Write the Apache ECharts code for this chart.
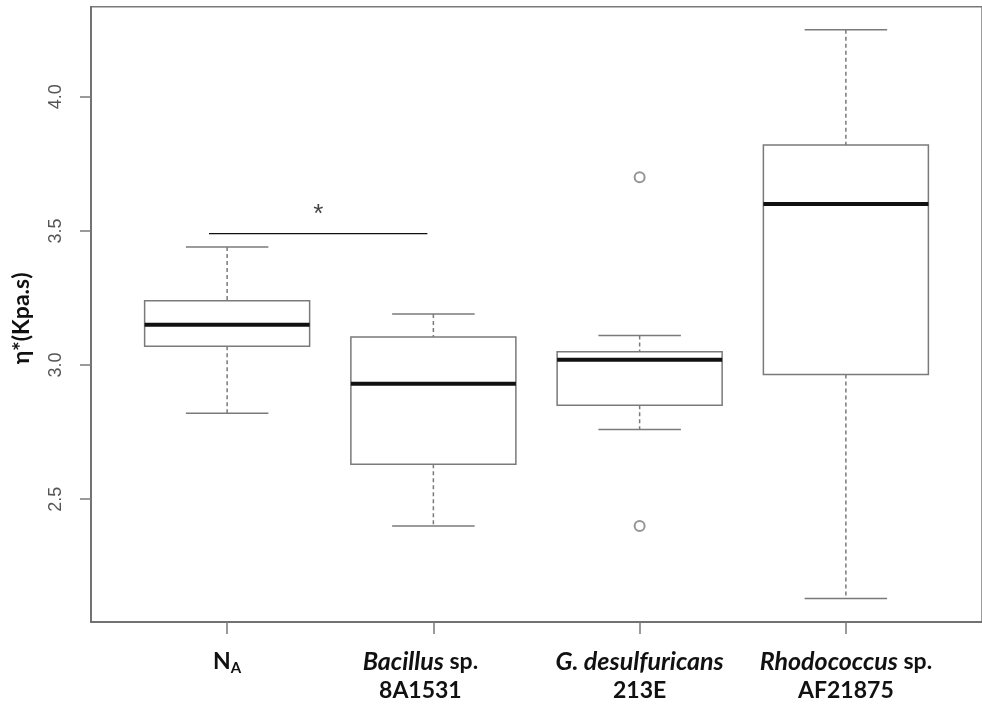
<!DOCTYPE html>
<html>
<head>
<meta charset="utf-8">
<title>Complex viscosity by treatment</title>
<script src="https://cdn.jsdelivr.net/npm/echarts@6/dist/echarts.min.js"></script>
<style>
  html, body { margin: 0; padding: 0; background: #fff; }
  #chart { width: 982px; height: 705px; }
</style>
</head>
<body>
<div id="chart"></div>
<script>
// Five-number summaries per treatment (whisker ends, quartiles, median)
const categories = ['NA', 'Bacillus sp. 8A1531', 'G. desulfuricans 213E', 'Rhodococcus sp. AF21875'];
const lowerWhisker = [2.82, 2.40, 2.76, 2.13];
const q1 = [3.07, 2.63, 2.85, 2.965];
const median = [3.15, 2.93, 3.02, 3.60];
const q3 = [3.24, 3.105, 3.05, 3.82];
const upperWhisker = [3.44, 3.19, 3.11, 4.25];
// Points beyond the whiskers: [group position, value]
const outliers = [[3, 3.70], [3, 2.40]];
// Significance bracket between the first two groups: [from, to, level]
const sigBracket = [0.912, 1.971, 3.49];
const sigMark = '*';
const yTicks = [2.5, 3.0, 3.5, 4.0];
const xTicks = [1, 2, 3, 4];
// Rich-text tick labels (italic genus names, bold strain codes)
const xTickLabels = [
  '{b|N}{sub|A}',
  '{bi|Bacillus}{bp| sp.}\n{bp|8A1531}',
  '{bi|G. desulfuricans}\n{b|213E}',
  '{bi|Rhodococcus}{b| sp.}\n{b|AF21875}'
];

const boxData = categories.map((c, i) => [xTicks[i], lowerWhisker[i], q1[i], median[i], q3[i], upperWhisker[i]]);

const BOX_HALF = 0.4;
const CAP_HALF = 0.2;
const GREY = '#7a7a7a';

function renderBox(params, api) {
  const x = api.value(0);
  const lw = api.value(1), lq = api.value(2), md = api.value(3), uq = api.value(4), uw = api.value(5);
  const pL = api.coord([x - BOX_HALF, uq]);
  const pR = api.coord([x + BOX_HALF, lq]);
  const c = api.coord([x, md]);
  const yUW = api.coord([x, uw])[1];
  const yLW = api.coord([x, lw])[1];
  const capL = api.coord([x - CAP_HALF, uw])[0];
  const capR = api.coord([x + CAP_HALF, uw])[0];
  const dashed = { stroke: GREY, lineWidth: 1.5, lineDash: [4, 3], fill: null };
  const solid = { stroke: GREY, lineWidth: 1.5, fill: null };
  return {
    type: 'group',
    children: [
      { type: 'line', shape: { x1: c[0], y1: yUW, x2: c[0], y2: pL[1] }, style: dashed },
      { type: 'line', shape: { x1: c[0], y1: pR[1], x2: c[0], y2: yLW }, style: dashed },
      { type: 'line', shape: { x1: capL, y1: yUW, x2: capR, y2: yUW }, style: solid },
      { type: 'line', shape: { x1: capL, y1: yLW, x2: capR, y2: yLW }, style: solid },
      { type: 'rect', shape: { x: pL[0], y: pL[1], width: pR[0] - pL[0], height: pR[1] - pL[1] },
        style: { fill: '#fff', stroke: GREY, lineWidth: 1.5 } },
      { type: 'line', shape: { x1: pL[0], y1: c[1], x2: pR[0], y2: c[1] },
        style: { stroke: '#111', lineWidth: 4 } }
    ]
  };
}

const chart = echarts.init(document.getElementById('chart'));
const labelFont = 'Lato, "Open Sans", sans-serif';

chart.setOption({
  animation: false,
  backgroundColor: '#fff',
  grid: {
    left: 91, right: -3.5, top: 6.7, bottom: 83,
    show: true, borderColor: GREY, borderWidth: 1.5
  },
  xAxis: {
    type: 'value',
    min: 0.34, max: 4.66,
    splitLine: { show: false },
    axisLine: { show: true, lineStyle: { color: '#666', width: 1.5 } },
    axisTick: { show: true, length: 12, customValues: xTicks, lineStyle: { color: GREY, width: 1.5 } },
    axisLabel: {
      customValues: xTicks,
      margin: 25,
      lineHeight: 29,
      formatter: (v) => xTickLabels[Math.round(v) - 1] || '',
      rich: {
        b: { fontFamily: labelFont, fontWeight: 'bold', fontSize: 23, color: '#111', lineHeight: 29 },
        bp: { fontFamily: labelFont, fontWeight: 'bold', fontSize: 23, color: '#111', lineHeight: 29, padding: [0, 26, 0, 0] },
        bi: { fontFamily: labelFont, fontWeight: 'bold', fontStyle: 'italic', fontSize: 25, color: '#111', lineHeight: 29 },
        sub: { fontFamily: labelFont, fontWeight: 'bold', fontSize: 15, color: '#111', lineHeight: 29, padding: [14, 0, 0, 0] }
      }
    }
  },
  yAxis: {
    type: 'value',
    min: 2.042, max: 4.336,
    name: 'η*(Kpa.s)',
    nameLocation: 'middle',
    nameRotate: 90,
    nameGap: 58,
    nameTextStyle: { fontFamily: labelFont, fontWeight: 'bold', fontSize: 23, color: '#111', padding: [0, 0, 0, -8] },
    splitLine: { show: false },
    axisLine: { show: true, lineStyle: { color: '#666', width: 1.5 } },
    axisTick: { show: true, length: 11, customValues: yTicks, lineStyle: { color: GREY, width: 1.5 } },
    axisLabel: {
      customValues: yTicks,
      rotate: 90,
      margin: 26,
      fontFamily: '"Liberation Sans", Arial, sans-serif',
      fontSize: 18,
      color: '#555',
      formatter: (v) => v.toFixed(1)
    }
  },
  series: [
    {
      type: 'custom',
      renderItem: renderBox,
      data: boxData,
      encode: { x: 0, y: [1, 2, 3, 4, 5] },
      z: 2
    },
    {
      type: 'scatter',
      data: outliers,
      symbol: 'emptyCircle',
      symbolSize: 10,
      itemStyle: { color: GREY, borderWidth: 1.5 },
      z: 3
    },
    {
      type: 'line',
      data: [[sigBracket[0], sigBracket[2]], [sigBracket[1], sigBracket[2]]],
      symbol: 'none',
      lineStyle: { color: '#111', width: 1.3 },
      z: 3
    },
    {
      type: 'scatter',
      data: [[(sigBracket[0] + sigBracket[1]) / 2, sigBracket[2]]],
      symbolSize: 0,
      label: {
        show: true,
        position: 'top',
        distance: 6,
        formatter: sigMark,
        fontFamily: '"Liberation Sans", Arial, sans-serif',
        fontSize: 26,
        color: '#111'
      },
      z: 3
    }
  ]
});
</script>
</body>
</html>
